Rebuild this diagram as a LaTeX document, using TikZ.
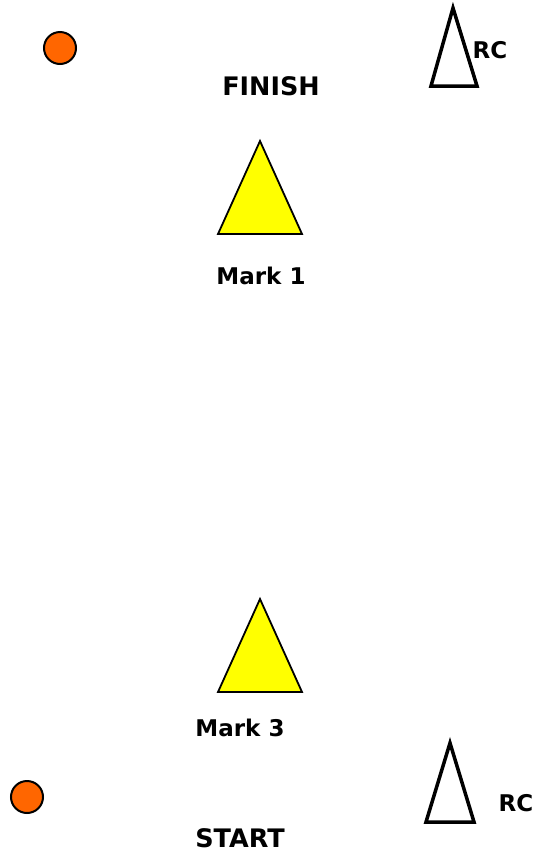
\documentclass[tikz,border=0pt]{standalone}
\usepackage{fontspec}
\setmainfont{DejaVu Sans}
\usepackage{xcolor}
\usepackage{tikz}
\usetikzlibrary{positioning}

\definecolor{buoyorange}{HTML}{FF6600}
\definecolor{markyellow}{HTML}{FFFF00}

\begin{document}
\begin{tikzpicture}[x=1pt,y=-1pt,
  lbl/.style={font=\fontsize{23}{26}\selectfont\bfseries,inner sep=0pt},
  biglbl/.style={lbl,font=\fontsize{25.5}{28}\selectfont\bfseries},
  coursemark/.style={draw,fill=markyellow,line width=1.8pt,line join=miter},
  rcboat/.style={draw,line width=3.5pt,line join=miter},
  pin/.style={draw,fill=buoyorange,line width=2pt}]
  \useasboundingbox (0,0) rectangle (533,852);
  % pin ends of the lines
  \draw[pin] (60,48) circle (16);
  \draw[pin] (27,797) circle (16);
  % committee boats
  \draw[rcboat] (453,8) -- (477,86) -- (431,86) -- cycle;
  \draw[rcboat] (450,743) -- (474,822) -- (426,822) -- cycle;
  % course marks
  \draw[coursemark] (260,141) -- (302,234) -- (218,234) -- cycle;
  \draw[coursemark] (260,599) -- (302,692) -- (218,692) -- cycle;
  % labels
  \node[biglbl] (finish) at (271,86) {FINISH};
  \node[lbl] (rctop) at (490,50) {RC};
  \node[lbl] (mark1) at (261,276) {Mark 1};
  \node[lbl] (mark3) at (240,728) {Mark 3};
  \node[lbl] (rcbot) at (516,803) {RC};
  \node[biglbl] (start) at (240,838) {START};
\end{tikzpicture}
\end{document}
